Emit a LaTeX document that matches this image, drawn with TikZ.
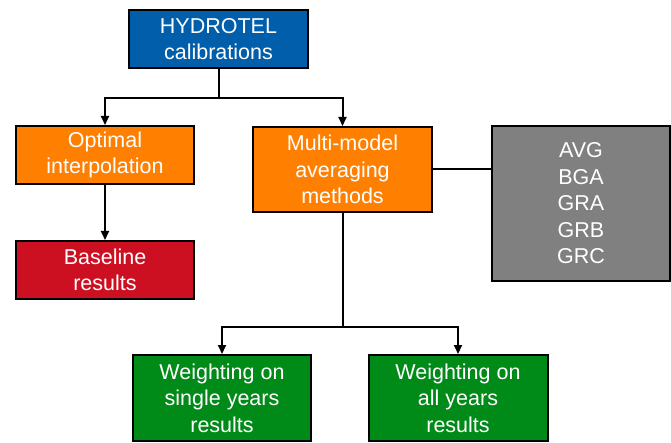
\documentclass[tikz,border=0pt]{standalone}
\usepackage{fontspec}
\setmainfont{Liberation Sans}
\usetikzlibrary{arrows.meta}
\definecolor{cblue}{RGB}{0,94,170}
\definecolor{corange}{RGB}{255,128,0}
\definecolor{cred}{RGB}{204,16,34}
\definecolor{cgreen}{RGB}{0,138,24}
\definecolor{cgray}{RGB}{128,128,128}
\begin{document}
\begin{tikzpicture}[x=1pt,y=-1pt,
  box/.style={draw=black,line width=2pt,text=white,align=center,
    font=\fontsize{21.5}{26.5}\selectfont,inner sep=0pt},
  conn/.style={line width=2pt,draw=black},
  arr/.style={conn,-{Triangle[width=8pt,length=9pt]}}]
\useasboundingbox (0,0) rectangle (671,443);
\node[box,fill=cblue,minimum width=179pt,minimum height=58pt] (hyd) at (218.5,39) {HYDROTEL\\calibrations};
\node[box,fill=corange,minimum width=178pt,minimum height=58pt] (opt) at (105,155) {Optimal\\interpolation};
\node[box,fill=corange,minimum width=179pt,minimum height=85pt] (mma) at (342.5,169.5) {Multi-model\\averaging\\methods};
\node[box,fill=cgray,minimum width=178pt,minimum height=155pt] (meth) at (581,203.5) {AVG\\BGA\\GRA\\GRB\\GRC};
\node[box,fill=cred,minimum width=178pt,minimum height=58pt] (base) at (105,270) {Baseline\\results};
\node[box,fill=cgreen,minimum width=178pt,minimum height=86pt] (single) at (222,398) {Weighting on\\single years\\results};
\node[box,fill=cgreen,minimum width=179pt,minimum height=86pt] (all) at (458,398) {Weighting on\\all years\\results};
\coordinate (j1) at (218.5,98);
\coordinate (j2) at (342.5,327);
\draw[conn] (hyd.south) -- (j1);
\draw[arr] (j1) -| (opt.north);
\draw[arr] (j1) -| (mma.north);
\draw[arr] (opt.south) -- (base.north);
\draw[conn] (mma.east) -- (mma.east -| meth.west);
\draw[conn] (mma.south) -- (j2);
\draw[arr] (j2) -| (single.north);
\draw[arr] (j2) -| (all.north);
\end{tikzpicture}
\end{document}
